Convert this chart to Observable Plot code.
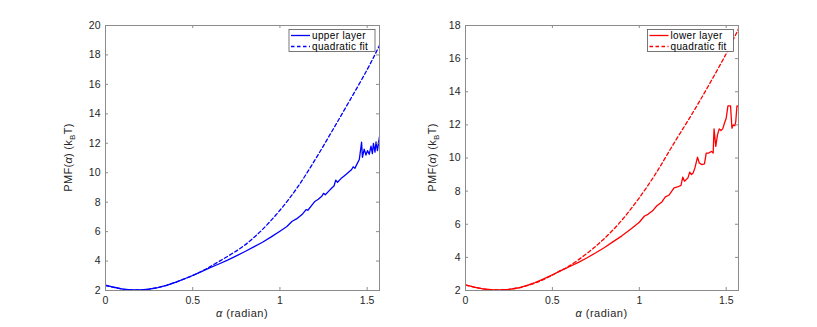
<!DOCTYPE html>
<html>
<head>
<meta charset="utf-8">
<script src="https://cdn.jsdelivr.net/npm/d3@7"></script>
<script src="https://cdn.jsdelivr.net/npm/@observablehq/plot@0.6"></script>
<style>
  html, body { margin: 0; padding: 0; background: #fff; }
  #wrap { position: relative; width: 817px; height: 327px; overflow: hidden; }
  #left, #right { position: absolute; top: 0; }
  #left { left: 0; }
  #right { left: 408px; }
</style>
</head>
<body>
<div id="wrap"><div id="left"></div><div id="right"></div></div>
<script>
// ---- data ----
const xTicks = [0, 0.5, 1, 1.5];
const yTicksUpper = [2, 4, 6, 8, 10, 12, 14, 16, 18, 20];
const yTicksLower = [2, 4, 6, 8, 10, 12, 14, 16, 18];

const upperX = [0, 0.05, 0.1, 0.15, 0.2, 0.25, 0.3, 0.35, 0.4, 0.45, 0.5, 0.55, 0.6, 0.65, 0.7, 0.75, 0.8, 0.85, 0.9, 0.95, 1.0, 1.04, 1.07, 1.1, 1.13, 1.15, 1.16, 1.18, 1.2, 1.22, 1.24, 1.25, 1.26, 1.28, 1.3, 1.31, 1.32, 1.33, 1.35, 1.37, 1.39, 1.41, 1.42, 1.43, 1.44, 1.455, 1.468, 1.473, 1.483, 1.493, 1.502, 1.512, 1.522, 1.53, 1.536, 1.545, 1.551, 1.559, 1.5708];
const upperY = [2.36, 2.22, 2.1, 2.04, 2.04, 2.09, 2.2, 2.35, 2.55, 2.78, 3.02, 3.28, 3.55, 3.8, 4.06, 4.35, 4.65, 4.96, 5.28, 5.64, 6.03, 6.35, 6.7, 6.9, 7.2, 7.5, 7.45, 7.75, 8.05, 8.2, 8.4, 8.6, 8.5, 8.75, 9.0, 9.1, 9.5, 9.35, 9.6, 9.8, 10.0, 10.2, 10.4, 10.3, 10.55, 10.9, 12.07, 11.05, 11.6, 11.2, 11.5, 11.25, 11.8, 11.3, 12.0, 11.4, 12.1, 11.5, 12.45];

const upperFitX = [0, 0.1, 0.2, 0.3, 0.4, 0.5, 0.55, 0.6, 0.7, 0.8, 0.9, 1.0, 1.1, 1.2, 1.3, 1.4, 1.5, 1.5708];
const upperFitY = [2.34, 2.09, 2.04, 2.2, 2.55, 3.02, 3.3, 3.62, 4.32, 5.1, 6.15, 7.45, 9.0, 10.85, 12.85, 14.9, 17.0, 18.65];

const lowerX = [0, 0.05, 0.1, 0.15, 0.2, 0.25, 0.3, 0.35, 0.4, 0.45, 0.5, 0.55, 0.6, 0.65, 0.7, 0.75, 0.8, 0.85, 0.9, 0.95, 1.0, 1.03, 1.05, 1.08, 1.1, 1.13, 1.15, 1.17, 1.2, 1.22, 1.24, 1.25, 1.26, 1.28, 1.29, 1.3, 1.31, 1.32, 1.335, 1.345, 1.36, 1.375, 1.385, 1.4, 1.415, 1.425, 1.43, 1.44, 1.45, 1.46, 1.47, 1.48, 1.49, 1.5, 1.51, 1.525, 1.533, 1.54, 1.55, 1.555, 1.562, 1.5708];
const lowerY = [2.34, 2.2, 2.1, 2.05, 2.03, 2.07, 2.15, 2.3, 2.48, 2.7, 2.95, 3.2, 3.45, 3.7, 3.98, 4.28, 4.6, 4.95, 5.3, 5.7, 6.12, 6.5, 6.6, 6.85, 7.1, 7.35, 7.65, 7.75, 8.2, 8.25, 8.35, 8.85, 8.6, 8.8, 9.15, 9.0, 9.1, 9.4, 10.05, 9.7, 9.6, 9.65, 10.3, 10.3, 10.4, 10.3, 11.76, 10.7, 11.4, 11.76, 11.66, 11.76, 12.1, 12.4, 13.15, 13.15, 11.8, 12.0, 11.95, 12.2, 13.15, 13.1];

const lowerFitX = [0, 0.1, 0.2, 0.3, 0.4, 0.5, 0.55, 0.6, 0.7, 0.8, 0.9, 1.0, 1.1, 1.2, 1.3, 1.4, 1.5, 1.5708];
const lowerFitY = [2.33, 2.1, 2.03, 2.15, 2.45, 2.93, 3.22, 3.5, 4.25, 5.15, 6.25, 7.6, 9.15, 10.9, 12.6, 14.4, 16.3, 17.8];

const upperLegend = ["upper layer", "quadratic fit"];
const lowerLegend = ["lower layer", "quadratic fit"];

// ---- drawing ----
const FONT = "'Liberation Sans', Arial, Helvetica, sans-serif";
const AXIS = "#8c8c8c";
const TEXT = "#262626";

function panel({el, xs, ys, fxs, fys, color, yDomain, yTicks, legend, width, ml, mr, legendX, yLabelOffset}) {
  const mt = 25, mb = 37, height = 327;
  const H = height - mt - mb, W = width - ml - mr;
  const data = xs.map((x, i) => ({x, y: ys[i]}));
  const fit = fxs.map((x, i) => ({x, y: fys[i]}));
  const svg = Plot.plot({
    width, height, marginLeft: ml, marginRight: mr, marginTop: mt, marginBottom: mb,
    style: {fontFamily: FONT, fontSize: "10.5px", color: TEXT, background: "white", overflow: "visible"},
    x: {domain: [0, Math.PI / 2]},
    y: {domain: yDomain},
    marks: [
      Plot.line(data, {x: "x", y: "y", stroke: color, strokeWidth: 1.3, clip: true}),
      Plot.line(fit, {x: "x", y: "y", stroke: color, strokeWidth: 1.3, strokeDasharray: "3.5,2.5", curve: "natural", clip: true}),
      Plot.axisX(xTicks, {tickSize: 0, tickPadding: 6, label: null, tickFormat: d => String(d), fill: TEXT}),
      Plot.axisY(yTicks, {tickSize: 0, tickPadding: 5, label: null, fill: TEXT}),
      Plot.tickX(xTicks, {x: d => d, insetTop: H - 3, stroke: AXIS}),
      Plot.tickX(xTicks, {x: d => d, insetBottom: H - 3, stroke: AXIS}),
      Plot.tickY(yTicks, {y: d => d, insetRight: W - 3, stroke: AXIS}),
      Plot.tickY(yTicks, {y: d => d, insetLeft: W - 3, stroke: AXIS}),
      Plot.frame({stroke: AXIS})
    ]
  });
  const s = d3.select(svg);
  // x label
  const xl = s.append("text")
    .attr("x", ml + W / 2).attr("y", 317)
    .attr("text-anchor", "middle")
    .attr("fill", TEXT).style("font-size", "11px").style("letter-spacing", "0.5px");
  xl.append("tspan").style("font-style", "italic").text("α");
  xl.append("tspan").text(" (radian)");
  // y label
  const yl = s.append("text")
    .attr("transform", `translate(${ml - yLabelOffset},${mt + H / 2}) rotate(-90)`)
    .attr("text-anchor", "middle")
    .attr("fill", TEXT).style("font-size", "11px").style("letter-spacing", "0.3px");
  yl.append("tspan").text("PMF(");
  yl.append("tspan").style("font-style", "italic").text("α");
  yl.append("tspan").text(") (k");
  yl.append("tspan").attr("dy", 3).style("font-size", "8px").text("B");
  yl.append("tspan").attr("dy", -3).text("T)");
  // legend
  const g = s.append("g").attr("transform", `translate(${legendX},29.5)`);
  g.append("rect").attr("width", 86).attr("height", 22).attr("fill", "white").attr("stroke", "#555").attr("stroke-width", 0.8);
  legend.forEach((lab, i) => {
    const yy = 6 + i * 11;
    g.append("line").attr("x1", 2).attr("x2", 21).attr("y1", yy).attr("y2", yy)
      .attr("stroke", color).attr("stroke-width", 1.3)
      .attr("stroke-dasharray", i === 1 ? "3.5,2.5" : null);
    g.append("text").attr("x", 23).attr("y", yy).attr("dy", "0.35em")
      .attr("text-anchor", "start")
      .attr("fill", "#000").style("font-size", "10px").style("letter-spacing", "0.35px").text(lab);
  });
  document.getElementById(el).appendChild(svg);
}

panel({el: "left", xs: upperX, ys: upperY, fxs: upperFitX, fys: upperFitY, color: "#0000ff",
  yDomain: [2, 20], yTicks: yTicksUpper, legend: upperLegend, width: 408, ml: 105, mr: 29, legendX: 289, yLabelOffset: 33});
panel({el: "right", xs: lowerX, ys: lowerY, fxs: lowerFitX, fys: lowerFitY, color: "#ff0000",
  yDomain: [2, 18], yTicks: yTicksLower, legend: lowerLegend, width: 409, ml: 57, mr: 79, legendX: 239.5, yLabelOffset: 29});
</script>
</body>
</html>
